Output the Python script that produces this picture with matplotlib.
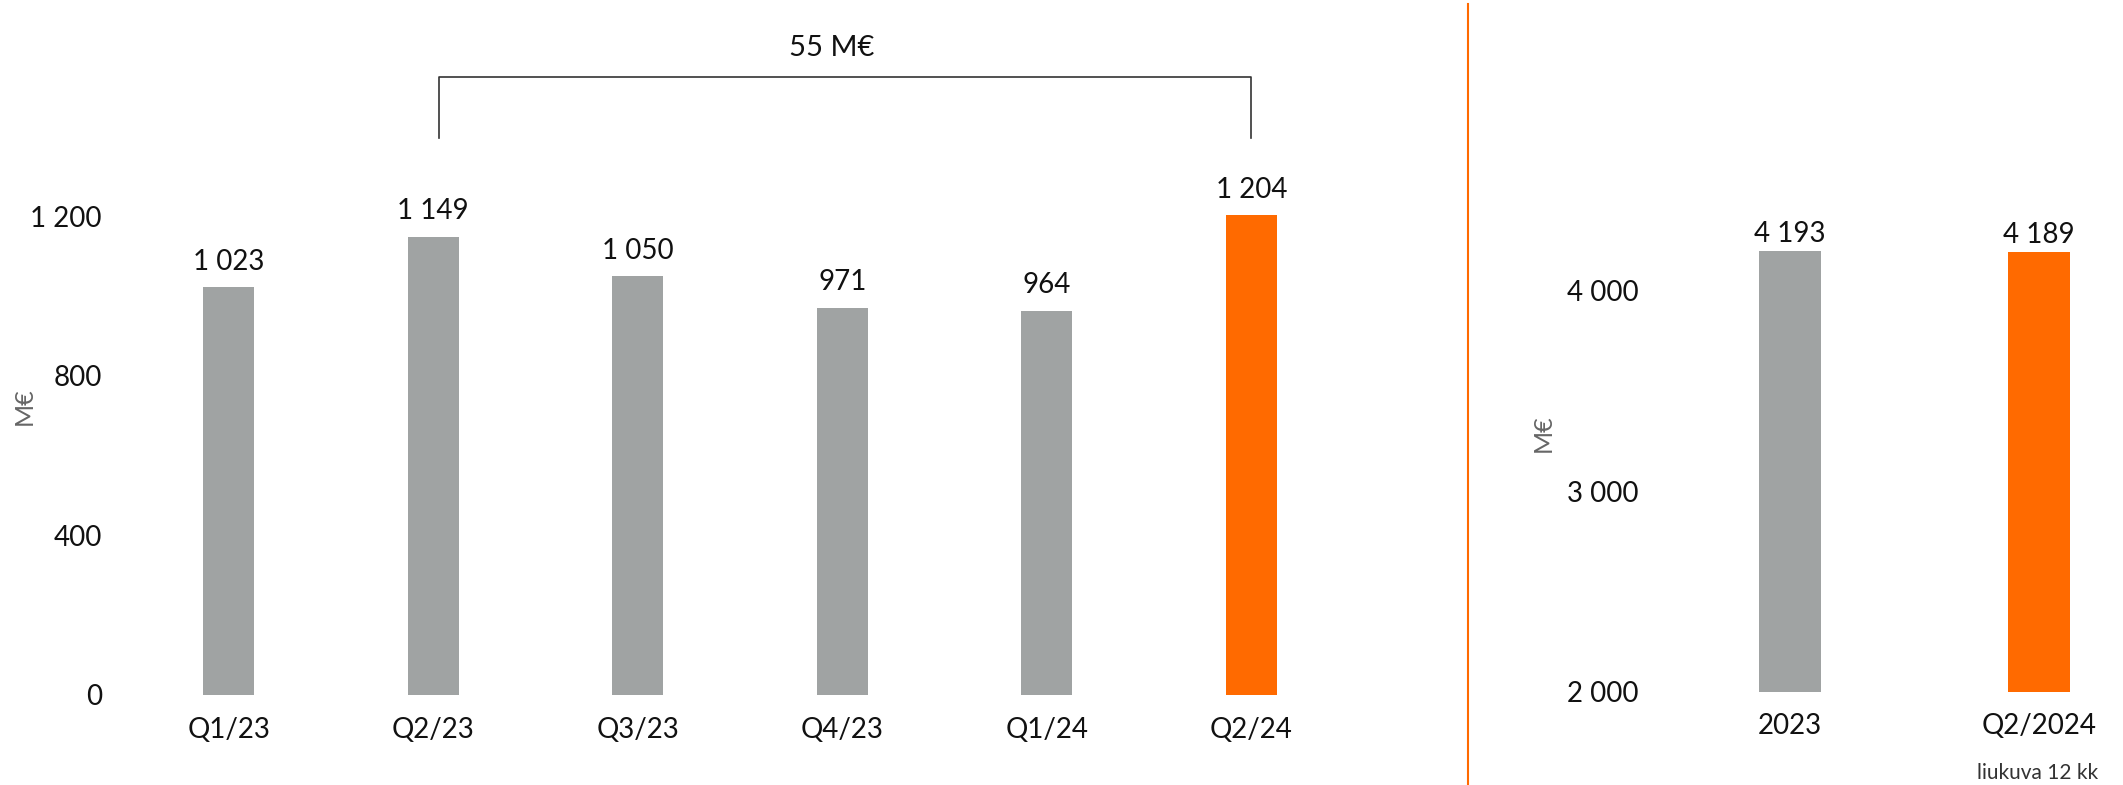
import matplotlib
matplotlib.use("Agg")
import matplotlib.pyplot as plt
from matplotlib.lines import Line2D

plt.rcParams['font.family'] = ['Lato', 'DejaVu Sans']

# ---- data ----
quarters = ["Q1/23", "Q2/23", "Q3/23", "Q4/23", "Q1/24", "Q2/24"]
quarter_values = [1023, 1149, 1050, 971, 964, 1204]
quarter_labels = ["1 023", "1 149", "1 050", "971", "964", "1 204"]
left_ticks = [0, 400, 800, 1200]
left_tick_labels = ["0", "400", "800", "1 200"]

periods = ["2023", "Q2/2024"]
period_values = [4193, 4189]
period_labels = ["4 193", "4 189"]
right_ticks = [2000, 3000, 4000]
right_tick_labels = ["2 000", "3 000", "4 000"]

change_text = "55 M€"
unit = "M€"
note = "liukuva 12 kk"

GRAY = "#A0A3A3"
ORANGE = "#FF6A00"
TXT = "#111111"

W, H = 2123, 785
fig = plt.figure(figsize=(W / 100, H / 100), dpi=100)

def px(x0, y0_bottom, w, h):
    return [x0 / W, y0_bottom / H, w / W, h / H]

# ---- left panel ----
ax1 = fig.add_axes(px(120, 90.4, 1320, 1700 * 0.3983))
colors1 = [GRAY] * (len(quarters) - 1) + [ORANGE]
xs = list(range(len(quarters)))
ax1.bar(xs, quarter_values, width=0.25, color=colors1)
ax1.set_xlim((120 - 228.8) / 204.5, (1440 - 228.8) / 204.5)
ax1.set_ylim(0, 1700)
ax1.set_yticks(left_ticks)
ax1.set_yticklabels(left_tick_labels)
ax1.set_xticks(xs)
ax1.set_xticklabels(quarters)
for s in ax1.spines.values():
    s.set_visible(False)
ax1.tick_params(axis='y', length=0, pad=13, labelsize=20, labelcolor=TXT)
ax1.tick_params(axis='x', length=0, pad=16, labelsize=20, labelcolor=TXT)
for x, v, lab in zip(xs, quarter_values, quarter_labels):
    ax1.annotate(lab, (x, v), xytext=(0, 9), textcoords='offset points',
                 ha='center', va='bottom', fontsize=20, color=TXT)

# bracket between Q2/23 and Q2/24
i0, i1 = 1, 5
yb_top, yb_bot = 1550, 1397
ax1.add_line(Line2D([i0 + 0.03, i0 + 0.03, i1, i1], [yb_bot, yb_top, yb_top, yb_bot],
                    color="#333333", lw=1.2, clip_on=False))
ax1.text((i0 + i1) / 2 - 0.05, 1590, change_text, ha='center', va='bottom',
         fontsize=21, color=TXT)

fig.text(24 / W, 1 - 406 / H, unit, rotation=90, ha='center', va='center',
         fontsize=18, color="#666666")

# ---- divider ----
fig.add_artist(Line2D([1468 / W, 1468 / W], [0.0, 0.995], color=ORANGE, lw=1.5,
                      transform=fig.transFigure))

# ---- right panel ----
ax2 = fig.add_axes(px(1655, 93, W - 1655, 3300 * 0.201))
xs2 = list(range(len(periods)))
ax2.bar(xs2, period_values, width=0.25, color=[GRAY, ORANGE])
ax2.set_xlim((1655 - 1790) / 249, (W - 1790) / 249)
ax2.set_ylim(2000, 5300)
ax2.set_yticks(right_ticks)
ax2.set_yticklabels(right_tick_labels)
ax2.set_xticks(xs2)
ax2.set_xticklabels(periods)
for s in ax2.spines.values():
    s.set_visible(False)
ax2.tick_params(axis='y', length=0, pad=12, labelsize=20, labelcolor=TXT)
ax2.tick_params(axis='x', length=0, pad=15, labelsize=20, labelcolor=TXT)
for x, v, lab in zip(xs2, period_values, period_labels):
    ax2.annotate(lab, (x, v), xytext=(0, 3), textcoords='offset points',
                 ha='center', va='bottom', fontsize=20, color=TXT)

fig.text(1543 / W, 1 - 433 / H, unit, rotation=90, ha='center', va='center',
         fontsize=18, color="#666666")
fig.text(2098 / W, 12 / H, note, ha='right', va='center', fontsize=15, color="#333333")

fig.savefig("out.png", dpi=100)
